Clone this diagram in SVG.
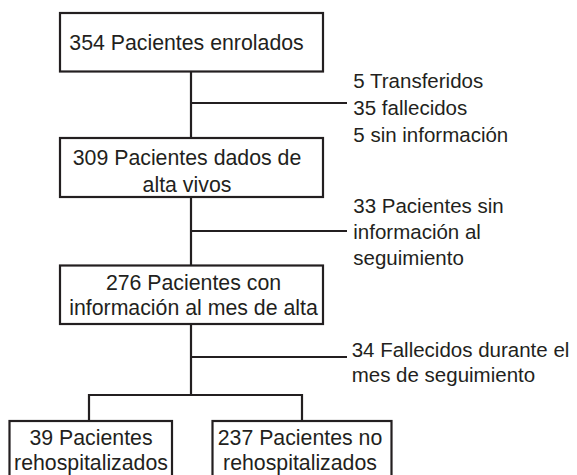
<svg xmlns="http://www.w3.org/2000/svg" width="577" height="475" viewBox="0 0 577 475">
<style>
.box{fill:#ffffff;stroke:#231f20;stroke-width:2.2}
.ln{fill:none;stroke:#231f20;stroke-width:2.2}
.bt{font-family:"Liberation Sans",Arial,sans-serif;font-size:21.3px;fill:#231f20;text-anchor:middle}
.st{font-family:"Liberation Sans",Arial,sans-serif;font-size:20.5px;fill:#231f20}
</style>
<rect width="577" height="475" fill="#ffffff"/>
<g id="connectors">
<path class="ln" d="M191 72 V137 M191 197 V265 M191 324 V395 M191 103 H347 M191 231 H347 M191 357 H347 M89 395 H302 M89 394 V420 M302 394 V420"/>
</g>
<g id="n1">
<rect class="box" x="60" y="13" width="263" height="58.5"/>
<text class="bt" x="186.5" y="49.5">354 Pacientes enrolados</text>
</g>
<g id="n2">
<rect class="box" x="60" y="138" width="263" height="59"/>
<text class="bt" x="187" y="164.5">309 Pacientes dados de</text>
<text class="bt" x="187" y="191.5">alta vivos</text>
</g>
<g id="n3">
<rect class="box" x="60" y="265.5" width="263" height="58.5"/>
<text class="bt" x="193.5" y="290">276 Pacientes con</text>
<text class="bt" x="193.5" y="315">información al mes de alta</text>
</g>
<g id="n4">
<rect class="box" x="9.5" y="421" width="162.5" height="70"/>
<text class="bt" x="91" y="445">39 Pacientes</text>
<text class="bt" x="91" y="470">rehospitalizados</text>
</g>
<g id="n5">
<rect class="box" x="212.5" y="421" width="179" height="70"/>
<text class="bt" x="300" y="445">237 Pacientes no</text>
<text class="bt" x="300" y="470">rehospitalizados</text>
</g>
<g id="l1">
<text class="st" x="353.3" y="87.5">5 Transferidos</text>
<text class="st" x="353.3" y="114.8">35 fallecidos</text>
<text class="st" x="353.3" y="141.5">5 sin información</text>
</g>
<g id="l2">
<text class="st" x="353.3" y="212.5">33 Pacientes sin</text>
<text class="st" x="353.3" y="239">información al</text>
<text class="st" x="353.3" y="264.5">seguimiento</text>
</g>
<g id="l3">
<text class="st" x="351.7" y="357">34 Fallecidos durante el</text>
<text class="st" x="351.7" y="382">mes de seguimiento</text>
</g>
</svg>
